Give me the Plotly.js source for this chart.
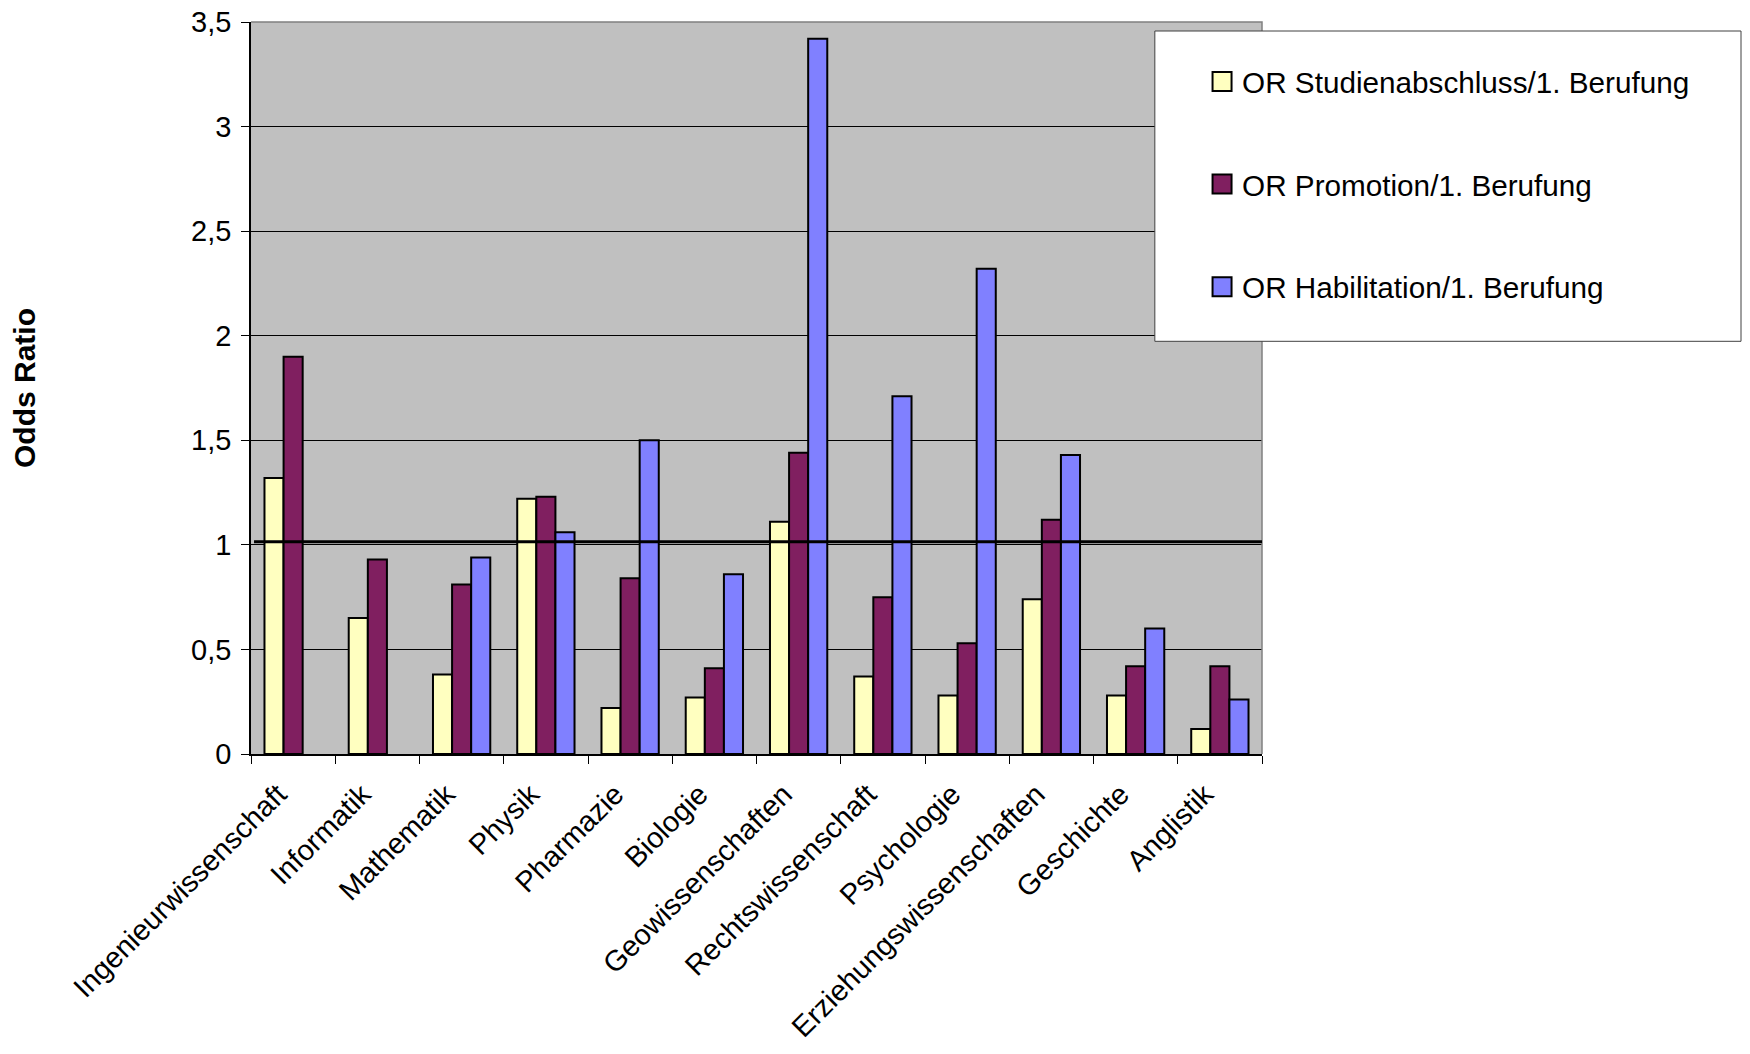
<!DOCTYPE html>
<html>
<head>
<meta charset="utf-8">
<script src="https://cdn.plot.ly/plotly-3.0.1.min.js"></script>
<style>
  html, body { margin: 0; padding: 0; background: #ffffff; }
  #chart { width: 1750px; height: 1054px; }
</style>
</head>
<body>
<div id="chart"></div>
<script>
// Fächer (Kategorien der x-Achse)
const faecher = [
  "Ingenieurwissenschaft", "Informatik", "Mathematik", "Physik", "Pharmazie",
  "Biologie", "Geowissenschaften", "Rechtswissenschaft", "Psychologie",
  "Erziehungswissenschaften", "Geschichte", "Anglistik"
];

// Odds Ratios je Qualifikationsstufe
const orStudienabschluss = [1.32, 0.65, 0.38, 1.22, 0.22, 0.27, 1.11, 0.37, 0.28, 0.74, 0.28, 0.12];
const orPromotion        = [1.90, 0.93, 0.81, 1.23, 0.84, 0.41, 1.44, 0.75, 0.53, 1.12, 0.42, 0.42];
const orHabilitation     = [null, null, 0.94, 1.06, 1.50, 0.86, 3.42, 1.71, 2.32, 1.43, 0.60, 0.26];

const serienNamen = [
  "OR Studienabschluss/1. Berufung",
  "OR Promotion/1. Berufung",
  "OR Habilitation/1. Berufung"
];

// Referenzlinie OR = 1
const referenzOR = 1.015;

// y-Achsen-Ticks mit deutschem Dezimalkomma
const yTickWerte = [0, 0.5, 1, 1.5, 2, 2.5, 3, 3.5];
const yTickTexte = ["0", "0,5", "1", "1,5", "2", "2,5", "3", "3,5"];

const farben = ["#FFFFC0", "#801F60", "#8080FF"];
const serienWerte = [orStudienabschluss, orPromotion, orHabilitation];

const FONT = "Liberation Sans, Arial, sans-serif";

const traces = serienWerte.map((werte, i) => ({
  type: "bar",
  name: serienNamen[i],
  x: faecher,
  y: werte,
  legendgroup: "g" + i,
  marker: { color: farben[i], line: { color: "#000000", width: 2 } },
  hoverinfo: "x+y+name"
}));

const layout = {
  width: 1750,
  height: 1054,
  paper_bgcolor: "#ffffff",
  plot_bgcolor: "#C0C0C0",
  margin: { l: 251, r: 488, t: 22, b: 300, pad: 0 },
  barmode: "group",
  bargap: 0.32,
  bargroupgap: 0,
  font: { family: FONT, color: "#000000", size: 29 },
  showlegend: true,
  legend: {
    x: 0.9407,
    xanchor: "left",
    y: 0.954,
    yanchor: "top",
    bgcolor: "rgba(0,0,0,0)",
    borderwidth: 0,
    traceorder: "grouped",
    tracegroupgap: 61,
    font: { family: FONT, size: 29.7, color: "#000000" }
  },
  xaxis: {
    type: "category",
    categoryorder: "array",
    categoryarray: faecher,
    tickangle: -45,
    ticks: "outside",
    tickson: "boundaries",
    ticklen: 8,
    tickcolor: "#000000",
    tickwidth: 1,
    ticklabelstandoff: 10,
    ticklabelshift: -15,
    showline: true,
    linecolor: "#000000",
    linewidth: 1.5,
    showgrid: false,
    tickfont: { family: FONT, size: 29, color: "#000000" },
    fixedrange: true
  },
  yaxis: {
    range: [0, 3.5],
    tickmode: "array",
    tickvals: yTickWerte,
    ticktext: yTickTexte,
    ticks: "outside",
    ticklen: 8,
    tickcolor: "#000000",
    tickwidth: 1,
    ticklabelstandoff: 4,
    showline: true,
    linecolor: "#000000",
    linewidth: 1.5,
    showgrid: true,
    gridcolor: "#000000",
    gridwidth: 1,
    zeroline: false,
    tickfont: { family: FONT, size: 29, color: "#000000" },
    title: {
      text: "<b>Odds Ratio</b>",
      font: { family: FONT, size: 30, color: "#000000" },
      standoff: 0
    },
    automargin: false,
    fixedrange: true
  },
  shapes: [
    // oberer und rechter Rahmen der Zeichenfläche
    {
      type: "path", xref: "paper", yref: "paper",
      path: "M 0 1 L 1 1 L 1 0",
      line: { color: "#808080", width: 1.5 },
      layer: "above"
    },
    // Referenzlinie bei OR = 1
    {
      type: "line", xref: "paper", yref: "y",
      x0: 0.003, x1: 1, y0: referenzOR, y1: referenzOR,
      line: { color: "#000000", width: 3 },
      layer: "above"
    },
    // Legendenkasten
    {
      type: "rect", xref: "paper", yref: "paper",
      x0: 0.894, x1: 1.4738, y0: 0.5638, y1: 0.9877,
      fillcolor: "#ffffff",
      line: { color: "#404040", width: 1 },
      layer: "above"
    }
  ]
};

function anpassen() {
  // y-Achsentitel weiter nach links setzen
  const t = document.querySelector(".g-ytitle text");
  if (t) {
    const y = t.getAttribute("y");
    t.setAttribute("x", "35");
    t.setAttribute("transform", "rotate(-90,35," + y + ")");
  }
  // größere quadratische Legendensymbole
  document.querySelectorAll(".legend .legendpoints path").forEach(p => {
    p.setAttribute("d", "M9.5,9.5H-9.5V-9.5H9.5Z");
  });
}

Plotly.newPlot("chart", traces, layout, { displayModeBar: false }).then(() => {
  anpassen();
  document.getElementById("chart").on("plotly_afterplot", anpassen);
});
</script>
</body>
</html>
